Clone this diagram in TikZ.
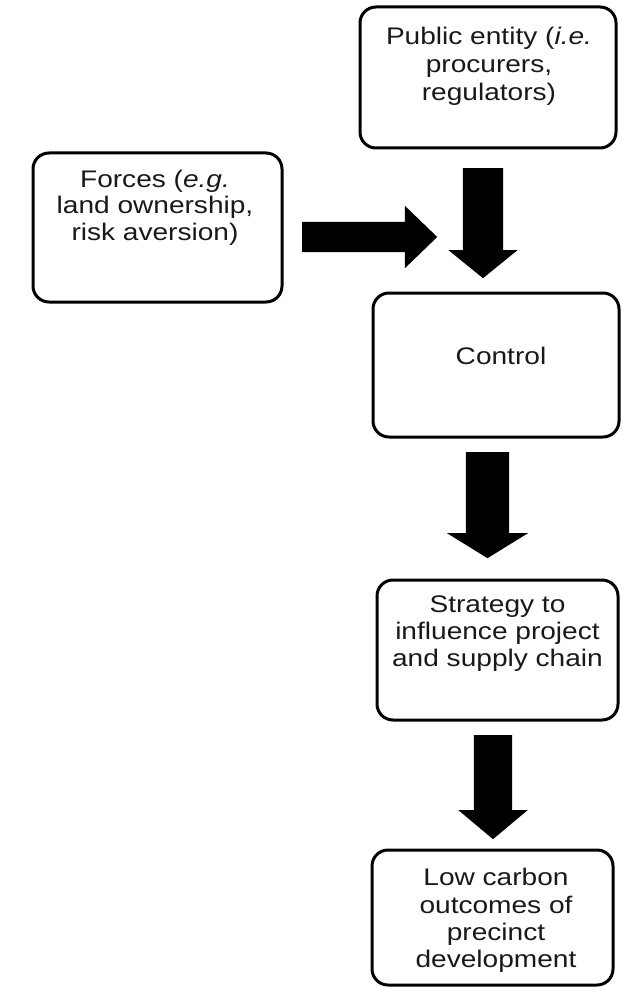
\documentclass[tikz,border=0pt]{standalone}
\usepackage{fontspec}
\setmainfont{Liberation Sans}[FakeStretch=1.17]
\usetikzlibrary{shapes.arrows}
\begin{document}
\begin{tikzpicture}[x=1pt,y=-1pt,
  box/.style={draw=black, line width=3pt, rounded corners=16pt, rectangle, inner sep=0pt, fill=white},
  txt/.style={anchor=base, inner sep=0pt, font=\fontsize{24}{27.5}\selectfont, text=black!90},
  blk/.style={single arrow, fill=black, draw=none, inner xsep=0pt, minimum width=0pt, anchor=tail}]
\useasboundingbox[fill=white] (0,0) rectangle (621,987);

% boxes
\node[box, minimum width=256pt, minimum height=141pt] (pub) at (488,77.5) {};
\node[box, minimum width=249pt, minimum height=149pt] (forces) at (157.5,227.5) {};
\node[box, minimum width=246pt, minimum height=144pt] (control) at (496,365) {};
\node[box, minimum width=241pt, minimum height=140pt] (strategy) at (497.5,650) {};
\node[box, minimum width=241pt, minimum height=135pt] (low) at (492.5,917.5) {};

% texts
\node[txt] (pubA) at (489,45) {Public entity (\textit{i.e.}};
\node[txt] (pubB) at (489,73) {procurers,};
\node[txt] (pubC) at (489,101) {regulators)};

\node[txt] (forA) at (155,187) {Forces (\textit{e.g.}};
\node[txt] (forB) at (155,213.5) {land ownership,};
\node[txt] (forC) at (155,240) {risk aversion)};

\node[txt] (conA) at (501,364) {Control};

\node[txt] (strA) at (497.5,612) {Strategy to};
\node[txt] (strB) at (497.5,639) {influence project};
\node[txt] (strC) at (497.5,666) {and supply chain};

\node[txt] (lowA) at (496,885) {Low carbon};
\node[txt] (lowB) at (496,913) {outcomes of};
\node[txt] (lowC) at (496,940) {precinct};
\node[txt] (lowD) at (496,967) {development};

% block arrows
\node[blk, inner ysep=15pt, single arrow head extend=16pt, single arrow tip angle=88, minimum height=135pt] (ah) at (302,237) {};
\node[blk, rotate=-90, inner ysep=20pt, single arrow head extend=14.5pt, single arrow tip angle=101.8, minimum height=110pt] (a1) at (483,168) {};
\node[blk, rotate=-90, inner ysep=21.5pt, single arrow head extend=19pt, single arrow tip angle=116.6, minimum height=106pt] (a2) at (487.5,452) {};
\node[blk, rotate=-90, inner ysep=19pt, single arrow head extend=15.5pt, single arrow tip angle=100, minimum height=104pt] (a3) at (493,735) {};
\end{tikzpicture}
\end{document}
